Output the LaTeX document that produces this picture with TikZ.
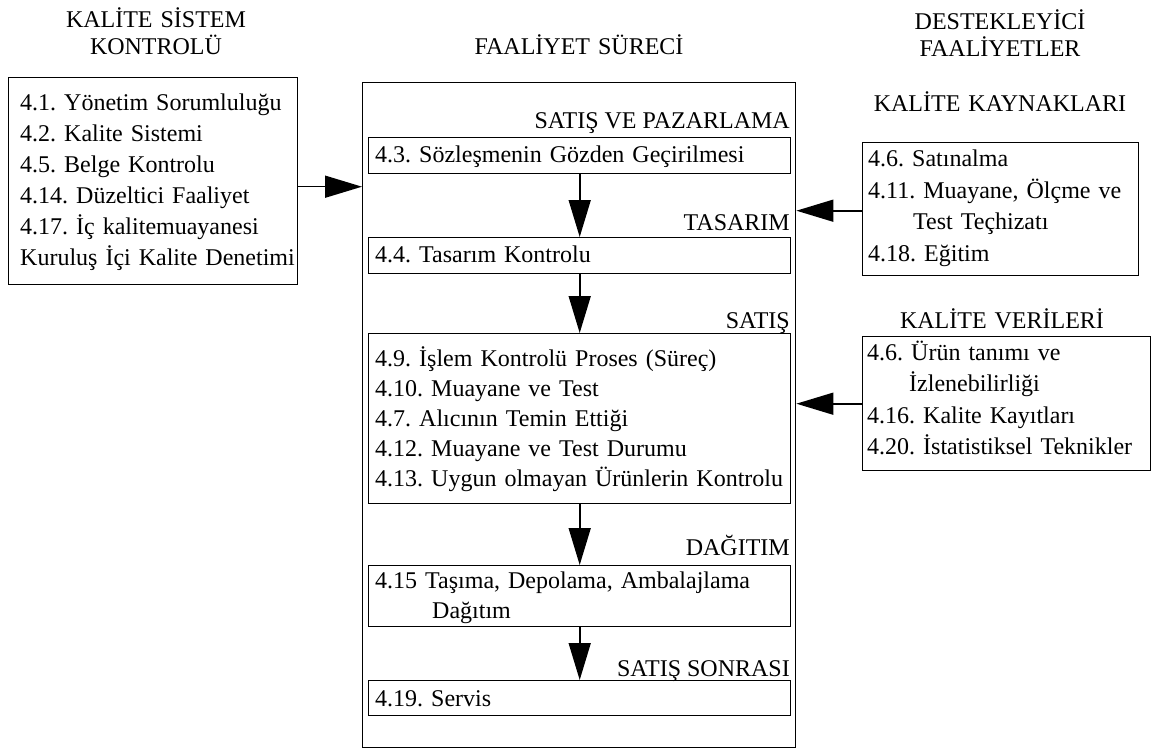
\documentclass[tikz,border=0pt]{standalone}
\usepackage{fontspec}
\setmainfont{Liberation Serif}
\frenchspacing
\usetikzlibrary{arrows.meta}
\tikzset{
  box/.style={draw, line width=1.4pt, inner sep=0pt, anchor=north west},
  txt/.style={inner sep=0pt, align=left, anchor=base west, text width=#1},
  txt/.default=600pt,
  lbl/.style={inner sep=0pt, anchor=base east, font=\fontsize{24}{30}\selectfont},
  ttl/.style={inner sep=0pt, anchor=base, align=center, text width=320pt, font=\fontsize{24}{27}\selectfont},
  arr/.style={line width=1.6pt, -{Triangle[length=37pt,width=22pt]}},
}
\begin{document}
\begin{tikzpicture}[x=1pt,y=-1pt]
\useasboundingbox (0,0) rectangle (1157,749);
% titles
\node[ttl] (tleft) at (156,28) {KALİTE SİSTEM\\KONTROLÜ};
\node[ttl] (tmid) at (579,55) {FAALİYET SÜRECİ};
\node[ttl] (tright) at (1000,30) {DESTEKLEYİCİ\\FAALİYETLER};
\node[ttl] (tkk) at (1000,112) {KALİTE KAYNAKLARI};
\node[ttl] (tkv) at (1002,328) {KALİTE VERİLERİ};
% boxes
\node[box, minimum width=289pt, minimum height=207pt] (boxL) at (8,77) {};
\node[box, minimum width=433pt, minimum height=665pt] (main) at (362,82) {};
\node[box, minimum width=422pt, minimum height=36pt] (b43) at (368,137) {};
\node[box, minimum width=422pt, minimum height=36pt] (b44) at (368,237) {};
\node[box, minimum width=422pt, minimum height=170pt] (b49) at (368,333) {};
\node[box, minimum width=422pt, minimum height=61pt] (b415) at (368,565) {};
\node[box, minimum width=422pt, minimum height=35pt] (b419) at (368,680) {};
\node[box, minimum width=276pt, minimum height=133pt] (bkk) at (862,142) {};
\node[box, minimum width=288pt, minimum height=134pt] (bkv) at (862,336) {};
% box texts
\node[txt=280pt, font=\fontsize{24}{31}\selectfont] (tL) at (20,111)
  {4.1. Yönetim Sorumluluğu\\4.2. Kalite Sistemi\\4.5. Belge Kontrolu\\4.14. Düzeltici Faaliyet\\4.17. İç kalitemuayanesi\\Kuruluş İçi Kalite Denetimi};
\node[txt, font=\fontsize{24}{30}\selectfont] (t43) at (375,163) {4.3. Sözleşmenin Gözden Geçirilmesi};
\node[txt, font=\fontsize{24}{30}\selectfont] (t44) at (375,262) {4.4. Tasarım Kontrolu};
\node[txt, font=\fontsize{24}{30}\selectfont] (t49) at (375,366)
  {4.9. İşlem Kontrolü Proses (Süreç)\\4.10. Muayane ve Test\\4.7. Alıcının Temin Ettiği\\4.12. Muayane ve Test Durumu\\4.13. Uygun olmayan Ürünlerin Kontrolu};
\node[txt, font=\fontsize{24}{30}\selectfont] (t415) at (375,588)
  {4.15 Taşıma, Depolama, Ambalajlama\\\hspace*{57pt}Dağıtım};
\node[txt, font=\fontsize{24}{30}\selectfont] (t419) at (375,706) {4.19. Servis};
\node[txt=290pt, font=\fontsize{24}{31.5}\selectfont] (tkkt) at (868,167)
  {4.6. Satınalma\\4.11. Muayane, Ölçme ve\\\hspace*{45pt}Test Teçhizatı\\4.18. Eğitim};
\node[txt=300pt, font=\fontsize{24}{31.5}\selectfont] (tkvt) at (867,360)
  {4.6. Ürün tanımı ve\\\hspace*{42pt}İzlenebilirliği\\4.16. Kalite Kayıtları\\4.20. İstatistiksel Teknikler};
% stage labels
\node[lbl] (l1) at (790,129) {SATIŞ VE PAZARLAMA};
\node[lbl] (l2) at (790,230) {TASARIM};
\node[lbl] (l3) at (790,328) {SATIŞ};
\node[lbl] (l4) at (790,555) {DAĞITIM};
\node[lbl] (l5) at (790,676) {SATIŞ SONRASI};
% arrows
\draw[arr] (b43.south) -- (b44.north);
\draw[arr] (b44.south) -- (b49.north);
\draw[arr] (b49.south) -- (b415.north);
\draw[arr] (b415.south) -- (b419.north);
\draw[arr] ([yshift=-5.5pt]boxL.east) -- ([yshift=-5.5pt]boxL.east -| main.west);
\draw[arr] ([yshift=-1.5pt]bkk.west) -- ([yshift=-1.5pt]bkk.west -| main.east);
\draw[arr] (bkv.west) -- (bkv.west -| main.east);
\end{tikzpicture}
\end{document}
